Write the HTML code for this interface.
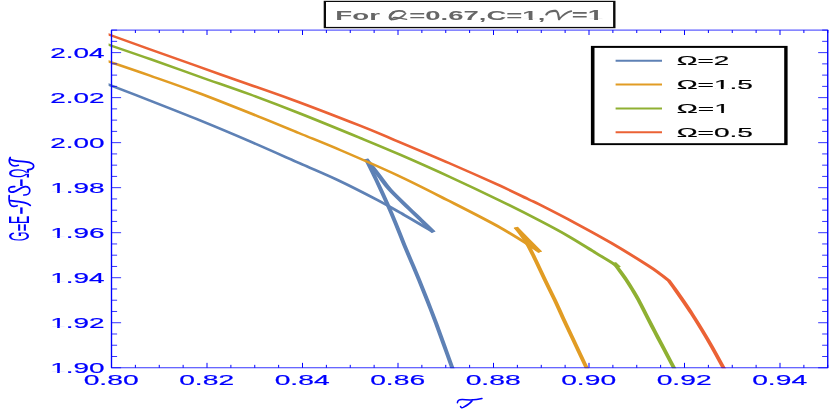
<!DOCTYPE html>
<html lang="en"><head><meta charset="utf-8"><title>chart</title>
<style>html,body{margin:0;padding:0;background:#ffffff;}body{width:830px;height:409px;overflow:hidden;font-family:"Liberation Sans",sans-serif;}svg{display:block;will-change:transform;}</style>
</head><body>
<svg width="830" height="409" viewBox="0 0 830 409">
<rect x="0" y="0" width="830" height="409" fill="#ffffff"/>
<defs><clipPath id="cp"><rect x="108.6" y="29.10" width="720.15" height="339.05"/></clipPath></defs>
<g clip-path="url(#cp)"><g transform="scale(1.900 1)" fill="none" stroke-linejoin="round" stroke-linecap="butt">
<path d="M55.26 83.30 C59.21 86.18 70.61 94.42 78.95 100.60 C87.28 106.78 96.49 113.60 105.26 120.40 C114.04 127.20 122.81 134.23 131.58 141.40 C140.35 148.57 150.10 156.87 157.89 163.40 C165.69 169.93 171.58 174.50 178.37 180.60 C185.16 186.70 193.27 194.68 198.63 200.00 C203.99 205.32 205.61 207.13 210.53 212.50 C215.45 217.87 225.22 228.92 228.16 232.20" stroke="#5e81b5" stroke-width="2.20"/>
<path d="M228.16 232.20 C227.02 230.08 223.46 223.45 221.32 219.50 C219.17 215.55 217.94 213.45 215.26 208.50 C212.59 203.55 207.85 195.17 205.26 189.80 C202.68 184.43 201.38 180.30 199.74 176.30 C198.10 172.30 196.61 168.68 195.42 165.80 C194.24 162.92 193.10 160.13 192.63 159.00" stroke="#5e81b5" stroke-width="2.60"/>
<path d="M192.63 159.00 C193.54 162.50 196.17 172.45 198.05 180.00 C199.94 187.55 202.26 197.13 203.95 204.30 C205.63 211.47 206.68 216.22 208.16 223.00 C209.63 229.78 211.39 238.50 212.79 245.00 C214.19 251.50 215.28 256.17 216.58 262.00 C217.88 267.83 219.16 273.42 220.58 280.00 C222.00 286.58 223.62 294.33 225.11 301.50 C226.59 308.67 228.04 315.75 229.47 323.00 C230.90 330.25 232.27 337.58 233.68 345.00 C235.10 352.42 237.16 363.33 237.95 367.50 C238.74 371.67 238.34 369.58 238.42 370.00" stroke="#5e81b5" stroke-width="2.20"/>
<path d="M55.26 60.20 C59.21 62.77 70.61 70.05 78.95 75.60 C87.28 81.15 95.61 86.58 105.26 93.50 C114.91 100.42 128.07 110.43 136.84 117.10 C145.61 123.77 150.87 128.02 157.89 133.50 C164.92 138.98 170.51 143.08 179.00 150.00 C187.49 156.92 199.45 166.67 208.84 175.00 C218.24 183.33 226.32 191.25 235.37 200.00 C244.42 208.75 255.01 218.82 263.16 227.50 C271.31 236.18 280.75 248.00 284.26 252.10" stroke="#e19c24" stroke-width="2.20"/>
<path d="M284.26 252.10 C282.12 247.98 273.56 231.52 271.42 227.40" stroke="#e19c24" stroke-width="2.50"/>
<path d="M271.42 227.40 C272.39 229.97 275.43 237.20 277.21 242.80 C278.99 248.40 280.50 254.80 282.11 261.00 C283.71 267.20 285.19 273.50 286.84 280.00 C288.49 286.50 290.42 293.67 292.00 300.00 C293.58 306.33 294.81 311.83 296.32 318.00 C297.82 324.17 299.56 331.00 301.05 337.00 C302.54 343.00 304.00 348.92 305.26 354.00 C306.53 359.08 307.96 364.83 308.63 367.50 C309.30 370.17 309.16 369.58 309.26 370.00" stroke="#e19c24" stroke-width="2.20"/>
<path d="M55.26 43.50 C59.21 46.08 70.61 53.45 78.95 59.00 C87.28 64.55 96.49 70.90 105.26 76.80 C114.04 82.70 122.81 88.28 131.58 94.40 C140.35 100.52 148.25 106.25 157.89 113.50 C167.54 120.75 180.70 131.03 189.47 137.90 C198.25 144.77 202.63 148.18 210.53 154.70 C218.42 161.22 228.19 169.45 236.84 177.00 C245.49 184.55 254.53 192.70 262.42 200.00 C270.32 207.30 278.01 214.68 284.21 220.80 C290.41 226.92 294.81 231.42 299.63 236.70 C304.46 241.98 309.59 248.37 313.16 252.50 C316.73 256.63 318.96 259.02 321.05 261.50 C323.14 263.98 324.91 266.42 325.68 267.40" stroke="#8fb032" stroke-width="2.20"/>
<path d="M325.68 267.40 C325.26 266.63 323.58 263.57 323.16 262.80" stroke="#8fb032" stroke-width="2.50"/>
<path d="M323.16 262.80 C323.71 264.25 325.37 268.58 326.47 271.50 C327.58 274.42 328.70 277.22 329.79 280.30 C330.88 283.38 331.93 286.63 333.00 290.00 C334.07 293.37 335.03 296.33 336.21 300.50 C337.39 304.67 338.68 309.75 340.11 315.00 C341.53 320.25 343.18 326.33 344.74 332.00 C346.30 337.67 347.83 343.08 349.47 349.00 C351.11 354.92 353.61 364.00 354.58 367.50 C355.54 371.00 355.15 369.58 355.26 370.00" stroke="#8fb032" stroke-width="2.20"/>
<path d="M55.26 33.20 C59.21 35.88 68.68 42.33 78.95 49.30 C89.21 56.27 104.30 66.55 116.84 75.00 C129.39 83.45 142.11 91.55 154.21 100.00 C166.32 108.45 180.71 119.15 189.47 125.70 C198.24 132.25 198.89 133.00 206.79 139.30 C214.68 145.60 227.45 155.77 236.84 163.50 C246.24 171.23 256.32 179.78 263.16 185.70 C269.99 191.62 274.33 195.82 277.84 199.00 C281.35 202.18 280.04 200.77 284.21 204.80 C288.39 208.83 296.68 216.87 302.89 223.20 C309.11 229.53 315.20 235.80 321.53 242.80 C327.85 249.80 336.54 260.03 340.84 265.20 C345.15 270.37 345.53 271.27 347.37 273.80 C349.21 276.33 351.14 279.30 351.89 280.40 C352.51 282.00 354.29 286.57 355.58 290.00 C356.87 293.43 358.19 297.00 359.63 301.00 C361.07 305.00 362.57 309.17 364.21 314.00 C365.85 318.83 367.72 324.50 369.47 330.00 C371.23 335.50 372.87 340.75 374.74 347.00 C376.61 353.25 379.57 363.67 380.68 367.50 C381.80 371.33 381.30 369.58 381.42 370.00" stroke="#eb6235" stroke-width="2.20"/>
</g></g>
<g stroke="#0000ff" fill="none" shape-rendering="auto">
<path d="M111.00 30.10 H828.25 M111.00 367.75 H828.25" stroke-width="0.8"/>
<path d="M111.50 30.10 V367.75 M827.75 30.10 V367.75" stroke-width="1.35"/>
<path d="M111.50 367.75 v-4.90 M111.50 30.10 v4.90 M135.38 367.75 v-2.90 M135.38 30.10 v2.90 M159.25 367.75 v-2.90 M159.25 30.10 v2.90 M183.13 367.75 v-2.90 M183.13 30.10 v2.90 M207.00 367.75 v-4.90 M207.00 30.10 v4.90 M230.88 367.75 v-2.90 M230.88 30.10 v2.90 M254.75 367.75 v-2.90 M254.75 30.10 v2.90 M278.63 367.75 v-2.90 M278.63 30.10 v2.90 M302.50 367.75 v-4.90 M302.50 30.10 v4.90 M326.38 367.75 v-2.90 M326.38 30.10 v2.90 M350.25 367.75 v-2.90 M350.25 30.10 v2.90 M374.13 367.75 v-2.90 M374.13 30.10 v2.90 M398.00 367.75 v-4.90 M398.00 30.10 v4.90 M421.87 367.75 v-2.90 M421.87 30.10 v2.90 M445.75 367.75 v-2.90 M445.75 30.10 v2.90 M469.62 367.75 v-2.90 M469.62 30.10 v2.90 M493.50 367.75 v-4.90 M493.50 30.10 v4.90 M517.37 367.75 v-2.90 M517.37 30.10 v2.90 M541.25 367.75 v-2.90 M541.25 30.10 v2.90 M565.12 367.75 v-2.90 M565.12 30.10 v2.90 M589.00 367.75 v-4.90 M589.00 30.10 v4.90 M612.88 367.75 v-2.90 M612.88 30.10 v2.90 M636.75 367.75 v-2.90 M636.75 30.10 v2.90 M660.62 367.75 v-2.90 M660.62 30.10 v2.90 M684.50 367.75 v-4.90 M684.50 30.10 v4.90 M708.38 367.75 v-2.90 M708.38 30.10 v2.90 M732.25 367.75 v-2.90 M732.25 30.10 v2.90 M756.12 367.75 v-2.90 M756.12 30.10 v2.90 M780.00 367.75 v-4.90 M780.00 30.10 v4.90 M803.88 367.75 v-2.90 M803.88 30.10 v2.90 M827.75 367.75 v-2.90 M827.75 30.10 v2.90" stroke-width="1.0"/>
<path d="M111.50 367.75 h9.60 M827.75 367.75 h-9.60 M111.50 356.50 h5.60 M827.75 356.50 h-5.60 M111.50 345.24 h5.60 M827.75 345.24 h-5.60 M111.50 333.99 h5.60 M827.75 333.99 h-5.60 M111.50 322.73 h9.60 M827.75 322.73 h-9.60 M111.50 311.48 h5.60 M827.75 311.48 h-5.60 M111.50 300.22 h5.60 M827.75 300.22 h-5.60 M111.50 288.97 h5.60 M827.75 288.97 h-5.60 M111.50 277.71 h9.60 M827.75 277.71 h-9.60 M111.50 266.46 h5.60 M827.75 266.46 h-5.60 M111.50 255.20 h5.60 M827.75 255.20 h-5.60 M111.50 243.95 h5.60 M827.75 243.95 h-5.60 M111.50 232.69 h9.60 M827.75 232.69 h-9.60 M111.50 221.44 h5.60 M827.75 221.44 h-5.60 M111.50 210.18 h5.60 M827.75 210.18 h-5.60 M111.50 198.93 h5.60 M827.75 198.93 h-5.60 M111.50 187.67 h9.60 M827.75 187.67 h-9.60 M111.50 176.42 h5.60 M827.75 176.42 h-5.60 M111.50 165.16 h5.60 M827.75 165.16 h-5.60 M111.50 153.91 h5.60 M827.75 153.91 h-5.60 M111.50 142.65 h9.60 M827.75 142.65 h-9.60 M111.50 131.40 h5.60 M827.75 131.40 h-5.60 M111.50 120.14 h5.60 M827.75 120.14 h-5.60 M111.50 108.88 h5.60 M827.75 108.88 h-5.60 M111.50 97.63 h9.60 M827.75 97.63 h-9.60 M111.50 86.38 h5.60 M827.75 86.38 h-5.60 M111.50 75.12 h5.60 M827.75 75.12 h-5.60 M111.50 63.86 h5.60 M827.75 63.86 h-5.60 M111.50 52.61 h9.60 M827.75 52.61 h-9.60 M111.50 41.35 h5.60 M827.75 41.35 h-5.60 M111.50 30.10 h5.60 M827.75 30.10 h-5.60" stroke-width="0.8"/>
</g>
<g font-family="'Liberation Sans', sans-serif" style="font-kerning:none">
<g transform="translate(50.20 372.65) scale(1.8510 1)"><text x="0" y="0" font-size="15.10" fill="#0000ff" stroke="#0000ff" stroke-width="0.2">1.90</text><rect x="0.83" y="-1.38" width="2.94" height="2.03" fill="#ffffff"/><rect x="5.16" y="-1.38" width="2.85" height="2.03" fill="#ffffff"/></g>
<g transform="translate(50.20 327.63) scale(1.8510 1)"><text x="0" y="0" font-size="15.10" fill="#0000ff" stroke="#0000ff" stroke-width="0.2">1.92</text><rect x="0.83" y="-1.38" width="2.94" height="2.03" fill="#ffffff"/><rect x="5.16" y="-1.38" width="2.85" height="2.03" fill="#ffffff"/></g>
<g transform="translate(50.20 282.61) scale(1.8510 1)"><text x="0" y="0" font-size="15.10" fill="#0000ff" stroke="#0000ff" stroke-width="0.2">1.94</text><rect x="0.83" y="-1.38" width="2.94" height="2.03" fill="#ffffff"/><rect x="5.16" y="-1.38" width="2.85" height="2.03" fill="#ffffff"/></g>
<g transform="translate(50.20 237.59) scale(1.8510 1)"><text x="0" y="0" font-size="15.10" fill="#0000ff" stroke="#0000ff" stroke-width="0.2">1.96</text><rect x="0.83" y="-1.38" width="2.94" height="2.03" fill="#ffffff"/><rect x="5.16" y="-1.38" width="2.85" height="2.03" fill="#ffffff"/></g>
<g transform="translate(50.20 192.57) scale(1.8510 1)"><text x="0" y="0" font-size="15.10" fill="#0000ff" stroke="#0000ff" stroke-width="0.2">1.98</text><rect x="0.83" y="-1.38" width="2.94" height="2.03" fill="#ffffff"/><rect x="5.16" y="-1.38" width="2.85" height="2.03" fill="#ffffff"/></g>
<g transform="translate(50.20 147.55) scale(1.8510 1)"><text x="0" y="0" font-size="15.10" fill="#0000ff" stroke="#0000ff" stroke-width="0.2">2.00</text></g>
<g transform="translate(50.20 102.53) scale(1.8510 1)"><text x="0" y="0" font-size="15.10" fill="#0000ff" stroke="#0000ff" stroke-width="0.2">2.02</text></g>
<g transform="translate(50.20 57.51) scale(1.8510 1)"><text x="0" y="0" font-size="15.10" fill="#0000ff" stroke="#0000ff" stroke-width="0.2">2.04</text></g>
<g transform="translate(83.65 384.80) scale(1.8715 1)"><text x="0" y="0" font-size="15.10" fill="#0000ff" stroke="#0000ff" stroke-width="0.2">0.80</text></g>
<g transform="translate(179.15 384.80) scale(1.8715 1)"><text x="0" y="0" font-size="15.10" fill="#0000ff" stroke="#0000ff" stroke-width="0.2">0.82</text></g>
<g transform="translate(274.65 384.80) scale(1.8715 1)"><text x="0" y="0" font-size="15.10" fill="#0000ff" stroke="#0000ff" stroke-width="0.2">0.84</text></g>
<g transform="translate(370.15 384.80) scale(1.8715 1)"><text x="0" y="0" font-size="15.10" fill="#0000ff" stroke="#0000ff" stroke-width="0.2">0.86</text></g>
<g transform="translate(465.65 384.80) scale(1.8715 1)"><text x="0" y="0" font-size="15.10" fill="#0000ff" stroke="#0000ff" stroke-width="0.2">0.88</text></g>
<g transform="translate(561.15 384.80) scale(1.8715 1)"><text x="0" y="0" font-size="15.10" fill="#0000ff" stroke="#0000ff" stroke-width="0.2">0.90</text></g>
<g transform="translate(656.65 384.80) scale(1.8715 1)"><text x="0" y="0" font-size="15.10" fill="#0000ff" stroke="#0000ff" stroke-width="0.2">0.92</text></g>
<g transform="translate(752.15 384.80) scale(1.8715 1)"><text x="0" y="0" font-size="15.10" fill="#0000ff" stroke="#0000ff" stroke-width="0.2">0.94</text></g>
</g>
<path d="M457.4 402.8 C457.5 400.6 459.3 399.5 462.5 399.6 C468 399.8 474 400.8 482 398.5 M473 399.8 C471 402.5 467 405.6 463.2 407.4 C461.8 408 460.6 407.5 460.5 406.4" fill="none" stroke="#0000ff" stroke-width="1.5" stroke-linecap="round"/>
<rect x="323.7" y="0.8" width="291.8" height="27.4" fill="#0a0a0a"/><rect x="326" y="2.0" width="287.1" height="24.9" fill="#ffffff"/>
<g font-family="'Liberation Sans', sans-serif" style="font-kerning:none">
<g transform="translate(335.35 19.80) scale(2.0210 1)"><text x="0" y="0" font-size="13.70" fill="#666666" font-weight="bold">For</text></g>
<g transform="translate(409.25 19.80) scale(2.0076 1)"><text x="0" y="0" font-size="13.70" fill="#666666" font-weight="bold">=0.67,C=1,</text><rect x="56.93" y="-1.65" width="2.61" height="2.30" fill="#ffffff"/><rect x="61.47" y="-1.65" width="2.46" height="2.30" fill="#ffffff"/></g>
<g transform="translate(571.75 19.80) scale(2.0039 1)"><text x="0" y="0" font-size="13.70" fill="#666666" font-weight="bold">=1</text><rect x="8.56" y="-1.65" width="2.61" height="2.30" fill="#ffffff"/><rect x="13.10" y="-1.65" width="2.46" height="2.30" fill="#ffffff"/></g>
</g>
<g fill="none" stroke="#666666" stroke-linecap="round" stroke-linejoin="round">
<path d="M404.5 12.2 C402 10.3 396 10.4 392.5 12.8 C389 15.2 388.9 18.6 392 19.2 C396 19.9 403 17 405.5 13.5" stroke-width="1.7"/>
<path d="M393.3 17.7 C396 16.6 400 18.6 406.6 19.4" stroke-width="1.4"/>
<path d="M546.4 14.4 C547.6 12 552.5 10.3 556 11 C558.2 11.5 558.4 15 559.1 19.2" stroke-width="2.3"/>
<path d="M559.1 19.2 C562 16 567 12.2 571.3 11.2" stroke-width="1.7"/>
<path d="M393.5 12.3 C389.6 14.8 388.9 18.4 391.6 19.1" stroke-width="2.7"/>
</g>
<rect x="590.9" y="45.9" width="196.7" height="99.2" fill="#000000"/><rect x="594.5" y="47.9" width="189.7" height="95.3" fill="#ffffff"/>
<path d="M615.6 60.70 H662" stroke="#5e81b5" stroke-width="2.1" fill="none"/>
<g font-family="'Liberation Sans', sans-serif" style="font-kerning:none"><g transform="translate(676.70 65.00) scale(2.1069 1)"><text x="0" y="0" font-size="13.20" fill="#000000" stroke="#000000" stroke-width="0.2">Ω=2</text></g></g>
<path d="M615.6 84.57 H662" stroke="#e19c24" stroke-width="2.1" fill="none"/>
<g font-family="'Liberation Sans', sans-serif" style="font-kerning:none"><g transform="translate(676.70 88.87) scale(2.1210 1)"><text x="0" y="0" font-size="13.20" fill="#000000" stroke="#000000" stroke-width="0.2">Ω=1.5</text><rect x="18.30" y="-1.24" width="2.57" height="1.89" fill="#ffffff"/><rect x="22.09" y="-1.24" width="2.49" height="1.89" fill="#ffffff"/></g></g>
<path d="M615.6 108.44 H662" stroke="#8fb032" stroke-width="2.1" fill="none"/>
<g font-family="'Liberation Sans', sans-serif" style="font-kerning:none"><g transform="translate(676.70 112.74) scale(2.1350 1)"><text x="0" y="0" font-size="13.20" fill="#000000" stroke="#000000" stroke-width="0.2">Ω=1</text><rect x="18.30" y="-1.24" width="2.57" height="1.89" fill="#ffffff"/><rect x="22.09" y="-1.24" width="2.49" height="1.89" fill="#ffffff"/></g></g>
<path d="M615.6 132.31 H662" stroke="#eb6235" stroke-width="2.1" fill="none"/>
<g font-family="'Liberation Sans', sans-serif" style="font-kerning:none"><g transform="translate(676.70 136.61) scale(2.1210 1)"><text x="0" y="0" font-size="13.20" fill="#000000" stroke="#000000" stroke-width="0.2">Ω=0.5</text></g></g>
<text transform="translate(29.2 241.30) rotate(-90) scale(1 2.30)" font-family="'Liberation Sans', sans-serif" font-size="12.60" fill="#0000ff">G</text>
<text transform="translate(29.2 224.10) rotate(-90) scale(1 2.30)" font-family="'Liberation Sans', sans-serif" font-size="12.60" fill="#0000ff">E</text>
<text transform="translate(29.2 178.00) rotate(-90) scale(1 2.30)" font-family="'Liberation Sans', sans-serif" font-size="12.60" fill="#0000ff">Ω</text>
<rect x="18.1" y="224.3" width="2.1" height="6.4" fill="#0000ff"/><rect x="23.8" y="224.3" width="2.1" height="6.4" fill="#0000ff"/><rect x="20.2" y="207.4" width="2.4" height="6.4" fill="#0000ff"/><rect x="20.2" y="179.4" width="2.4" height="6.6" fill="#0000ff"/>
<g fill="none" stroke="#0000ff" stroke-width="1.7" stroke-linecap="round" stroke-linejoin="round">
<path d="M9.2 195.6 C9 198 9 202.5 10.5 204.8 C11.8 206.6 15 206.5 17.1 205.7 M10.5 200.6 C15 201.3 21 201.8 24.4 202.6 C27 203.2 29 204.2 30.3 205.4"/>
<path d="M14.7 186.7 C11 186.3 8.8 187.5 8.8 189.4 C8.8 192 11.5 192.6 14.5 191.6 C18 190.4 21 187 25.1 186.7 C28.5 186.5 30 188.5 29.8 191 C29.6 193.5 27 195.2 23.8 195"/>
<path d="M10.2 157.5 C9 159.5 9 162 10.5 164 C12 165.8 15.5 166.3 18.3 165.3 M10.8 159.5 C13 161 20 161.2 26 161.9 C30 162.3 33.5 163.5 33.7 166 C33.8 168.3 31 169.6 28.2 169.6"/>
</g>
</svg>
</body></html>
